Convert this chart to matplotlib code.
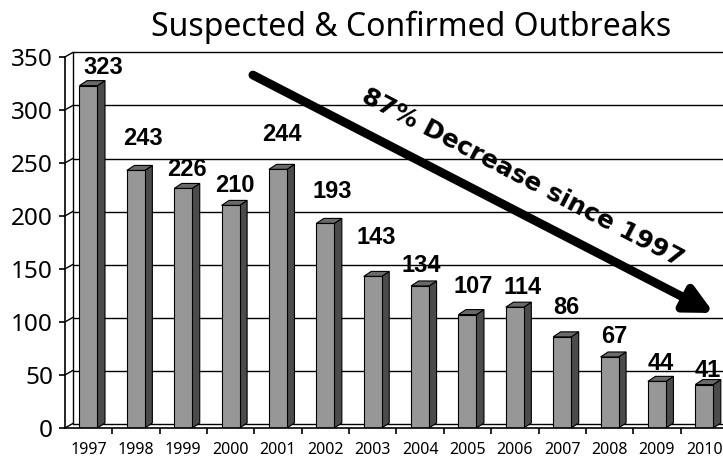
import matplotlib
matplotlib.use("Agg")
import matplotlib.pyplot as plt
from matplotlib.patches import Rectangle, Polygon, FancyArrowPatch

# ---- data -------------------------------------------------------------
years = ["1997", "1998", "1999", "2000", "2001", "2002", "2003",
         "2004", "2005", "2006", "2007", "2008", "2009", "2010"]
outbreaks = [323, 243, 226, 210, 244, 193, 143, 134, 107, 114, 86, 67, 44, 41]
y_ticks = [0, 50, 100, 150, 200, 250, 300, 350]
title = "Suspected & Confirmed Outbreaks"
note = "87% Decrease since 1997"

# hand-placed value label nudges (pixels right, pixels above the bar top)
label_nudge = [(14.5, 18.6), (7, 32.4), (4, 19.4), (4.4, 20.4), (4, 34.4),
               (7, 31.7), (4, 39.4), (1, 20), (5.5, 27.6), (8, 19.2),
               (4, 29.8), (4.5, 20), (4, 17.4), (3, 14.5)]

# ---- layout ----------------------------------------------------------
FW, FH, DPI = 723, 458, 100
fig = plt.figure(figsize=(FW / DPI, FH / DPI), dpi=DPI)
fig.patch.set_facecolor("white")

AX_L, AX_R, AX_B, AX_T = 64.8, 728.0, 428.0, 57.0   # pixel box of the front plane
ax = fig.add_axes([AX_L / FW, (FH - AX_B) / FH, (AX_R - AX_L) / FW, (AX_B - AX_T) / FH])
n = len(years)
XMIN, XMAX, YMIN, YMAX = -0.5, n - 0.5, 0, 350
ax.set_xlim(XMIN, XMAX)
ax.set_ylim(YMIN, YMAX)
ax.set_facecolor("none")

ux = (XMAX - XMIN) / (AX_R - AX_L)    # data units per pixel
uy = (YMAX - YMIN) / (AX_B - AX_T)

# depth of the 3-D box (back wall) and of each column
wall_dx, wall_dy = 8 * ux, 4.5 * uy
bar_dx, bar_dy = 7.5 * ux, 5 * uy
bar_w = 18 * ux

# back wall: gridlines, left wall edge, floor edge
for t in y_ticks:
    ax.plot([XMIN + wall_dx, XMAX + wall_dx], [t + wall_dy, t + wall_dy],
            color="black", lw=1.0, zorder=1, clip_on=False, solid_capstyle="butt")
    ax.plot([XMIN, XMIN + wall_dx], [t, t + wall_dy],
            color="black", lw=1.0, zorder=1, clip_on=False)
ax.plot([XMIN + wall_dx, XMIN + wall_dx], [wall_dy, YMAX + wall_dy],
        color="black", lw=1.0, zorder=1, clip_on=False)

# columns
front_c, side_c, top_c = "#979797", "#4b4b4b", "#6a6a6a"
for i, v in enumerate(outbreaks):
    x0, x1 = i - bar_w / 2, i + bar_w / 2
    ax.add_patch(Polygon([(x1, 0), (x1 + bar_dx, bar_dy), (x1 + bar_dx, v + bar_dy), (x1, v)],
                         closed=True, facecolor=side_c, edgecolor="black", lw=0.8, zorder=3))
    ax.add_patch(Polygon([(x0, v), (x0 + bar_dx, v + bar_dy), (x1 + bar_dx, v + bar_dy), (x1, v)],
                         closed=True, facecolor=top_c, edgecolor="black", lw=0.8, zorder=3))
    ax.add_patch(Rectangle((x0, 0), bar_w, v, facecolor=front_c,
                           edgecolor="black", lw=0.8, zorder=4))
    ndx, ndy = label_nudge[i]
    ax.text(i + ndx * ux, v + ndy * uy, str(v), ha="center", va="center",
            fontsize=17, fontweight="bold", family="Liberation Sans", zorder=6)

# axes, ticks and labels
for s in ("top", "right"):
    ax.spines[s].set_visible(False)
for s in ("left", "bottom"):
    ax.spines[s].set_linewidth(1.2)
    ax.spines[s].set_zorder(5)
ax.set_yticks(y_ticks)
ax.set_yticklabels([str(t) for t in y_ticks], family="Noto Sans", fontsize=17.5)
ax.tick_params(axis="y", direction="out", length=4.5, width=1.2, pad=4)
ax.set_xticks(range(n))
ax.set_xticklabels(years, family="Noto Sans", fontsize=11.5)
ax.set_xticks([i + 0.5 for i in range(n - 1)], minor=True)
ax.tick_params(axis="x", which="major", length=0, pad=10)
ax.tick_params(axis="x", which="minor", direction="out", length=4, width=1.2)

# title
fig.text(411 / FW, 1 - 27 / FH, title, ha="center", va="center",
         family="Noto Sans", fontsize=23)

# trend arrow with its note
arrow = FancyArrowPatch((3.47, 333), (13.2, 108.5),
                        arrowstyle="-|>,head_length=0.9,head_width=0.45",
                        mutation_scale=18, lw=6.3, color="black",
                        shrinkA=0, shrinkB=0, zorder=7, clip_on=False)
ax.add_patch(arrow)
ax.text(9.17, 235.8, note, rotation=-27.5, rotation_mode="anchor",
        ha="center", va="center", fontsize=18, fontweight="bold",
        family="DejaVu Sans", zorder=7)

fig.savefig("out.png", dpi=DPI)
